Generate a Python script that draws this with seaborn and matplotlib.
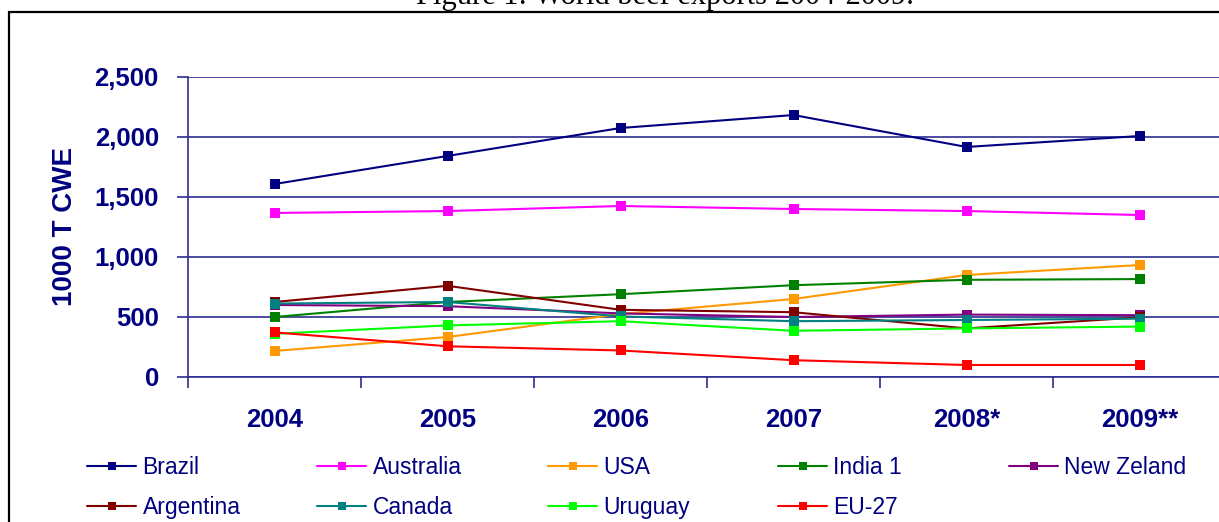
import matplotlib
matplotlib.use("Agg")
import matplotlib.pyplot as plt
from matplotlib.patches import Rectangle
from matplotlib.ticker import FixedLocator, FuncFormatter
import seaborn as sns
import pandas as pd

# ---- data ----
years = ["2004", "2005", "2006", "2007", "2008*", "2009**"]
brazil = [1608, 1842, 2075, 2183, 1917, 2008]
australia = [1367, 1383, 1425, 1400, 1383, 1350]
usa = [217, 333, 525, 650, 850, 933]
india = [500, 625, 690, 765, 810, 816]
new_zeland = [600, 590, 530, 500, 520, 515]
argentina = [625, 760, 560, 540, 405, 497]
canada = [612, 625, 505, 465, 475, 486]
uruguay = [360, 430, 465, 385, 405, 420]
eu27 = [372, 256, 221, 140, 100, 100]

countries = ["Brazil", "Australia", "USA", "India 1", "New Zeland",
             "Argentina", "Canada", "Uruguay", "EU-27"]
series = [brazil, australia, usa, india, new_zeland,
          argentina, canada, uruguay, eu27]
colors = ["#000080", "#ff00ff", "#ff9900", "#008000", "#800080",
          "#800000", "#008080", "#00ff00", "#ff0000"]
yticks = [0, 500, 1000, 1500, 2000, 2500]
title = "Figure 1: World beef exports 2004-2009."
ylabel = "1000 T CWE"

rows = []
for c, vals in zip(countries, series):
    for i, v in enumerate(vals):
        rows.append({"country": c, "pos": i, "value": v})
df = pd.DataFrame(rows)

sns.set_style("white")
plt.rcParams["font.family"] = ["Liberation Sans", "DejaVu Sans"]

NAVY = "#000080"
GRID = "#2e2e90"
W, H = 1219, 522
fig = plt.figure(figsize=(W / 100, H / 100), dpi=100)
ax = fig.add_axes([188 / W, 145 / H, 1038 / W, 300 / H])

sns.lineplot(data=df, x="pos", y="value", hue="country", style="country",
             hue_order=countries, style_order=countries,
             palette=dict(zip(countries, colors)),
             markers={c: "s" for c in countries}, dashes=False,
             markersize=7.5, markeredgewidth=0, linewidth=1.5,
             ax=ax, legend=True)

handles, labels = ax.get_legend_handles_labels()
ax.get_legend().remove()
hmap = dict(zip(labels, handles))

ax.set_xlim(-0.5, len(years) - 0.5)
ax.set_ylim(0, 2500)
ax.set_xlabel("")
ax.set_ylabel(ylabel, fontsize=20, fontweight="bold", color=NAVY)
ax.yaxis.set_label_coords(-0.106, 0.5)

# y axis
ax.set_yticks(yticks)
ax.yaxis.set_major_formatter(FuncFormatter(lambda v, p: f"{int(v):,}"))
ax.tick_params(axis="y", length=8, width=1.2, color=GRID, pad=13,
               labelsize=18.5, labelcolor=NAVY, direction="out", left=True)
for lab in ax.get_yticklabels():
    lab.set_fontweight("bold")
ax.grid(axis="y", color=GRID, linewidth=1.2)
ax.grid(axis="x", visible=False)

# x axis: boundary ticks + centred labels
ax.xaxis.set_major_locator(FixedLocator([i - 0.5 for i in range(len(years) + 1)]))
ax.xaxis.set_major_formatter(FuncFormatter(lambda v, p: ""))
ax.xaxis.set_minor_locator(FixedLocator(list(range(len(years)))))
ax.set_xticklabels(years, minor=True)
ax.tick_params(axis="x", which="major", length=8, width=1.2, color=GRID,
               direction="out", bottom=True)
ax.tick_params(axis="x", which="minor", length=0, pad=22, labelsize=18.5,
               labelcolor=NAVY, bottom=True)
for lab in ax.get_xticklabels(minor=True):
    lab.set_fontweight("bold")

for s in ["top", "right"]:
    ax.spines[s].set_visible(False)
for s in ["left", "bottom"]:
    ax.spines[s].set_color(GRID)
    ax.spines[s].set_linewidth(1.2)

# legend: one small legend per column
col_x = [87, 317, 548, 778, 1009]
grid_rows = [countries[:5], countries[5:]]
for ci, x in enumerate(col_x):
    labs = [r[ci] for r in grid_rows if ci < len(r)]
    hs = [hmap[l] for l in labs]
    leg = fig.legend(hs, labs, loc="upper left",
                     bbox_to_anchor=(x / W, (H - 456) / H),
                     bbox_transform=fig.transFigure,
                     frameon=False, fontsize=16.5, handlelength=2.15,
                     handletextpad=0.27, labelspacing=0.75,
                     borderaxespad=0, borderpad=0)
    for t in leg.get_texts():
        t.set_color(NAVY)
    for h in leg.legend_handles:
        h.set_markersize(6)
        h.set_linewidth(1.5)

# frame and (cut-off) title
fig.add_artist(Rectangle((9 / W, -0.1), 1.2, (H - 12) / H + 0.1,
                         transform=fig.transFigure, fill=False,
                         edgecolor="black", linewidth=1.6))
fig.text(665 / W, (H - 4) / H, title, ha="center", va="baseline",
         fontsize=22, family=["Liberation Serif", "DejaVu Serif"], color="black")

fig.savefig("out.png", dpi=100)
